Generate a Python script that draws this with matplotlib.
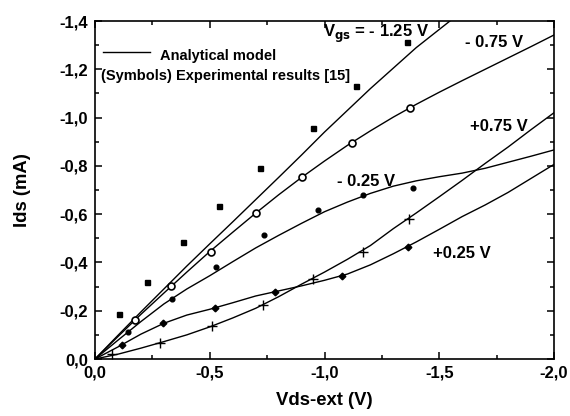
import matplotlib
matplotlib.use("Agg")
import matplotlib.pyplot as plt
from matplotlib.ticker import MultipleLocator, FuncFormatter

plt.rcParams['font.family'] = ['Liberation Sans', 'DejaVu Sans']
plt.rcParams['font.weight'] = 'bold'

# ---- Analytical model curves (Vds-ext in V, Ids in mA) ----
model_vds = [0.0, -0.1, -0.2, -0.3, -0.4, -0.5, -0.6, -0.7, -0.8, -0.9, -1.0,
             -1.1, -1.2, -1.3, -1.4, -1.5, -1.6, -1.7, -1.8, -1.9, -2.0]
model_m125 = [0.0, -0.098, -0.195, -0.29, -0.385, -0.477, -0.568, -0.66, -0.752, -0.845,
              -0.94, -1.03, -1.12, -1.205, -1.29, -1.365, -1.44, -1.51, -1.58, -1.65, -1.72]
model_m075 = [0.0, -0.093, -0.185, -0.273, -0.36, -0.445, -0.525, -0.604, -0.68, -0.752,
              -0.82, -0.885, -0.945, -1.002, -1.055, -1.105, -1.153, -1.2, -1.247, -1.294, -1.342]
model_m025 = [0.0, -0.078, -0.155, -0.228, -0.29, -0.345, -0.403, -0.46, -0.512, -0.562,
              -0.61, -0.65, -0.686, -0.716, -0.738, -0.755, -0.77, -0.79, -0.815, -0.84, -0.866]
model_p025 = [0.0, -0.05, -0.103, -0.148, -0.182, -0.206, -0.233, -0.261, -0.282, -0.303,
              -0.326, -0.352, -0.39, -0.436, -0.485, -0.537, -0.59, -0.638, -0.69, -0.748, -0.806]
model_p075 = [0.0, -0.02, -0.045, -0.072, -0.1, -0.133, -0.17, -0.21, -0.258, -0.31,
              -0.36, -0.413, -0.47, -0.54, -0.605, -0.672, -0.74, -0.81, -0.878, -0.95, -1.02]

# ---- Experimental results [15] ----
exp_m125_x = [-0.103, -0.225, -0.382, -0.539, -0.719, -0.95, -1.137, -1.358]
exp_m125_y = [-0.186, -0.319, -0.483, -0.634, -0.793, -0.955, -1.131, -1.313]
exp_m075_x = [-0.174, -0.33, -0.507, -0.70, -0.902, -1.12, -1.373]
exp_m075_y = [-0.162, -0.302, -0.445, -0.606, -0.753, -0.893, -1.04]
exp_m025_x = [-0.144, -0.334, -0.527, -0.736, -0.972, -1.169, -1.384]
exp_m025_y = [-0.113, -0.25, -0.382, -0.512, -0.617, -0.679, -0.707]
exp_p025_x = [-0.116, -0.298, -0.521, -0.786, -1.075, -1.365]
exp_p025_y = [-0.058, -0.15, -0.212, -0.279, -0.344, -0.465]
exp_p075_x = [-0.075, -0.283, -0.511, -0.733, -0.951, -1.166, -1.37]
exp_p075_y = [-0.02, -0.065, -0.137, -0.222, -0.331, -0.445, -0.58]

fig = plt.figure(figsize=(5.7, 4.16), dpi=100)
ax = fig.add_axes([0.1667, 0.137, 0.8052, 0.8125])

lw = 1.0
for ys in (model_m125, model_m075, model_m025, model_p025, model_p075):
    ax.plot(model_vds, ys, color='black', lw=lw)

ax.plot(exp_m125_x, exp_m125_y, 's', color='black', ms=3.6, ls='none')
ax.plot(exp_m075_x, exp_m075_y, 'o', mfc='white', mec='black', mew=1.2, ms=5, ls='none')
ax.plot(exp_m025_x, exp_m025_y, 'o', color='black', ms=3.4, ls='none')
ax.plot(exp_p025_x, exp_p025_y, 'D', color='black', ms=3.4, ls='none')
ax.plot(exp_p075_x, exp_p075_y, '+', color='black', ms=7, mew=1.0, ls='none')

ax.set_xlim(0, -2.0)
ax.set_ylim(0, -1.4)

def fmt(v, pos):
    s = f"{v:.1f}"
    if s == "-0.0":
        s = "0.0"
    return s.replace('.', ',')

ax.xaxis.set_major_locator(MultipleLocator(0.5))
ax.xaxis.set_minor_locator(MultipleLocator(0.25))
ax.yaxis.set_major_locator(MultipleLocator(0.2))
ax.yaxis.set_minor_locator(MultipleLocator(0.1))
ax.xaxis.set_major_formatter(FuncFormatter(fmt))
ax.yaxis.set_major_formatter(FuncFormatter(fmt))

ax.tick_params(which='both', direction='in', top=True, right=True, width=1.1)
ax.tick_params(which='major', length=5, labelsize=12)
ax.tick_params(axis='x', which='major', pad=5)
ax.tick_params(axis='y', which='major', pad=5)
ax.tick_params(which='minor', length=3)
for lab in ax.get_xticklabels() + ax.get_yticklabels():
    lab.set_fontweight('bold')
for sp in ax.spines.values():
    sp.set_linewidth(1.2)

ax.set_xlabel('Vds-ext (V)', fontsize=13.3, fontweight='bold', labelpad=8)
ax.set_ylabel('Ids (mA)', fontsize=13.3, fontweight='bold', labelpad=20.5)

# legend (drawn as in original)
ax.plot([-0.035, -0.24], [-1.272, -1.272], color='black', lw=lw)
ax.text(-0.283, -1.257, 'Analytical model', fontsize=10.5, fontweight='bold', va='center', ha='left')
ax.text(-0.026, -1.174, '(Symbols) Experimental results [15]', fontsize=10.5, fontweight='bold',
        va='center', ha='left')

# curve labels
lab_kw = dict(fontsize=12, fontweight='bold', va='center', ha='left')
ax.text(-0.995, -1.348, r'V$_{\mathbf{gs}}$ = - 1.25 V', **lab_kw)
ax.text(-1.613, -1.31, '- 0.75 V', **lab_kw)
ax.text(-1.634, -0.965, '+0.75 V', **lab_kw)
ax.text(-1.054, -0.735, '- 0.25 V', **lab_kw)
ax.text(-1.473, -0.435, '+0.25 V', **lab_kw)

fig.savefig('out.png', dpi=100)
